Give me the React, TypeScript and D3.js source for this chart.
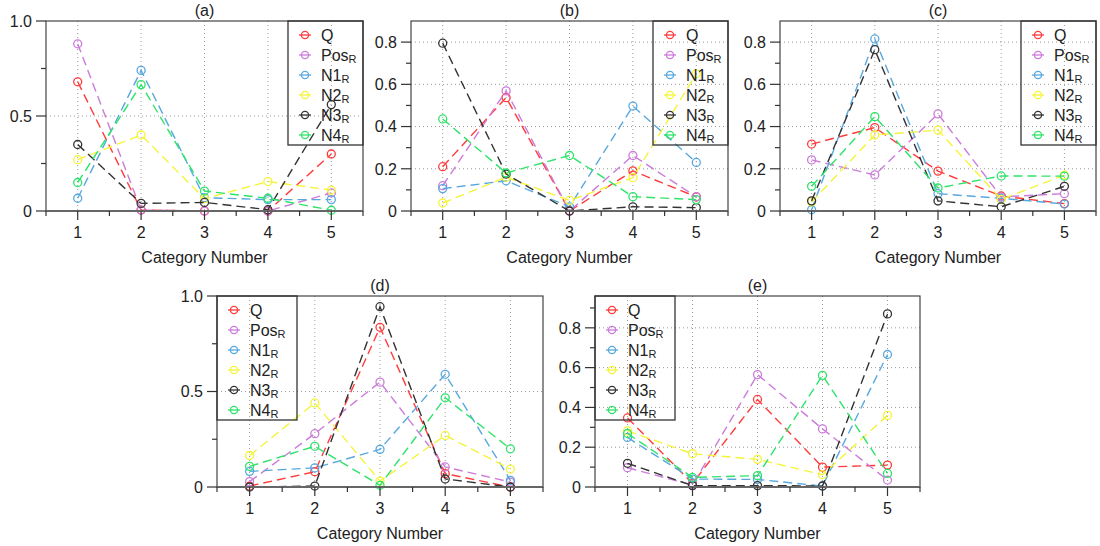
import React from 'react'
import * as d3 from 'd3'

// category numbers on the x axis
const categories = [1, 2, 3, 4, 5]

// series labels (name + subscript) and their colours
const seriesNames = ['Q', 'Pos', 'N1', 'N2', 'N3', 'N4']
const seriesSubs = ['', 'R', 'R', 'R', 'R', 'R']
const seriesColors = ['#ff3b3b', '#cc7bdb', '#58a8de', '#f4f43a', '#333333', '#2ee36a']

// values per panel, one row per series (Q, PosR, N1R, N2R, N3R, N4R)
const panelA = [
  [0.68, 0.005, 0.0, 0.0, 0.30],
  [0.88, 0.005, 0.0, 0.0, 0.095],
  [0.067, 0.74, 0.07, 0.06, 0.06],
  [0.27, 0.40, 0.065, 0.155, 0.11],
  [0.35, 0.04, 0.045, 0.007, 0.56],
  [0.15, 0.665, 0.105, 0.067, 0.004]
]
const panelB = [
  [0.21, 0.537, 0.0, 0.19, 0.067],
  [0.12, 0.569, 0.0, 0.263, 0.067],
  [0.106, 0.143, 0.02, 0.497, 0.23],
  [0.038, 0.16, 0.05, 0.158, 0.65],
  [0.795, 0.175, 0.0, 0.02, 0.016],
  [0.436, 0.18, 0.263, 0.068, 0.054]
]
const panelC = [
  [0.317, 0.395, 0.189, 0.071, 0.035],
  [0.242, 0.171, 0.46, 0.067, 0.082],
  [0.006, 0.815, 0.082, 0.06, 0.033],
  [0.043, 0.36, 0.383, 0.055, 0.17],
  [0.048, 0.764, 0.048, 0.02, 0.117],
  [0.117, 0.447, 0.109, 0.166, 0.165]
]
const panelD = [
  [0.005, 0.08, 0.836, 0.07, 0.0],
  [0.028, 0.279, 0.549, 0.105, 0.026],
  [0.082, 0.10, 0.197, 0.59, 0.035],
  [0.165, 0.44, 0.031, 0.27, 0.094],
  [0.0, 0.005, 0.944, 0.042, 0.0],
  [0.108, 0.213, 0.009, 0.467, 0.2]
]
const panelE = [
  [0.347, 0.018, 0.44, 0.10, 0.11],
  [0.097, 0.01, 0.565, 0.292, 0.035],
  [0.249, 0.04, 0.038, 0.005, 0.666],
  [0.282, 0.167, 0.139, 0.062, 0.36],
  [0.119, 0.007, 0.007, 0.005, 0.87],
  [0.269, 0.048, 0.057, 0.561, 0.068]
]

// y axis tick values
const ticksHalf = [0, 0.5, 1.0]
const minorHalf = [0.25, 0.75]
const ticksFifth = [0, 0.2, 0.4, 0.6, 0.8]
const minorFifth = [0.1, 0.3, 0.5, 0.7, 0.9]

const FONT = '"Liberation Sans", Arial, Helvetica, sans-serif'

// where each panel goes on the page
const panels = [
  { title: '(a)', data: panelA, yMax: 1.0, major: ticksHalf, minor: minorHalf, x0: 46, x1: 363, y0: 21, y1: 211, legend: 'right' },
  { title: '(b)', data: panelB, yMax: 0.9, major: ticksFifth, minor: minorFifth, x0: 411, x1: 728, y0: 21, y1: 211, legend: 'right' },
  { title: '(c)', data: panelC, yMax: 0.9, major: ticksFifth, minor: minorFifth, x0: 780, x1: 1096, y0: 21, y1: 211, legend: 'right' },
  { title: '(d)', data: panelD, yMax: 1.0, major: ticksHalf, minor: minorHalf, x0: 217, x1: 543, y0: 296, y1: 487, legend: 'left' },
  { title: '(e)', data: panelE, yMax: 0.96, major: ticksFifth, minor: minorFifth, x0: 595, x1: 920, y0: 296, y1: 487, legend: 'left' }
]

/**
 * One small panel: frame, grid, ticks, dashed series with open circles, legend.
 */
class Panel extends React.Component<any> {
  render() {
    const { title, data, yMax, major, minor, x0, x1, y0, y1, legend } = this.props

    const xScale = d3.scaleLinear().domain([0.5, 5.5]).range([x0, x1])
    const yScale = d3.scaleLinear().domain([0, yMax]).range([y1, y0])

    const line = d3.line<number>()
      .x((d, i) => xScale(categories[i]))
      .y((d) => yScale(d))

    const xMinor = d3.range(0.5, 5.6, 1)
    const fmt = (d: number) => (d === 0 ? '0' : d3.format('.1f')(d))

    // legend box
    const lw = legend === 'right' ? 75 : 80
    const lx = legend === 'right' ? x1 - lw : x0
    const ly = y0

    return (
      <g fontFamily={FONT}>
        {/* grid */}
        {categories.map((c) => (
          <line key={'gx' + c} x1={xScale(c)} x2={xScale(c)} y1={y0} y2={y1}
            stroke="#9a9a9a" strokeWidth={1} strokeDasharray="1,3" />
        ))}
        {major.filter((t: number) => t > 0 && t < yMax).map((t: number) => (
          <line key={'gy' + t} x1={x0} x2={x1} y1={yScale(t)} y2={yScale(t)}
            stroke="#9a9a9a" strokeWidth={1} strokeDasharray="1,3" />
        ))}

        {/* series */}
        {data.map((vals: number[], s: number) => (
          <g key={'s' + s}>
            <path d={line(vals) || ''} fill="none" stroke={seriesColors[s]}
              strokeWidth={1.4} strokeDasharray="9,5" />
            {vals.map((v, i) => (
              <circle key={i} cx={xScale(categories[i])} cy={yScale(v)} r={4}
                fill="none" stroke={seriesColors[s]} strokeWidth={1.3} />
            ))}
          </g>
        ))}

        {/* frame */}
        <rect x={x0} y={y0} width={x1 - x0} height={y1 - y0} fill="none" stroke="#444" strokeWidth={1.2} />
        <line x1={x0} x2={x1} y1={y1} y2={y1} stroke="#666" strokeWidth={2} />

        {/* y ticks */}
        {major.map((t: number) => (
          <g key={'yt' + t}>
            <line x1={x0 - 10} x2={x0} y1={yScale(t)} y2={yScale(t)} stroke="#333" strokeWidth={1.2} />
            <text x={x0 - 14} y={yScale(t)} dy="0.36em" textAnchor="end" fontSize={16} fill="#222">{fmt(t)}</text>
          </g>
        ))}
        {minor.filter((t: number) => t < yMax).map((t: number) => (
          <line key={'ym' + t} x1={x0 - 5} x2={x0} y1={yScale(t)} y2={yScale(t)} stroke="#333" strokeWidth={1.2} />
        ))}

        {/* x ticks */}
        {categories.map((c) => (
          <g key={'xt' + c}>
            <line x1={xScale(c)} x2={xScale(c)} y1={y1} y2={y1 + 9} stroke="#333" strokeWidth={1.2} />
            <text x={xScale(c)} y={y1 + 27} textAnchor="middle" fontSize={16} fill="#222">{c}</text>
          </g>
        ))}
        {xMinor.map((t) => (
          <line key={'xm' + t} x1={xScale(t)} x2={xScale(t)} y1={y1} y2={y1 + 5} stroke="#333" strokeWidth={1.2} />
        ))}

        {/* labels */}
        <text x={(x0 + x1) / 2} y={y0 - 5} textAnchor="middle" fontSize={16} fill="#222">{title}</text>
        <text x={(x0 + x1) / 2} y={y1 + 52} textAnchor="middle" fontSize={16} fill="#222">Category Number</text>

        {/* legend */}
        <rect x={lx} y={ly} width={lw} height={124} fill="none" stroke="#333" strokeWidth={1.3} />
        {seriesNames.map((name, s) => {
          const cy = ly + 14 + s * 20
          return (
            <g key={'lg' + s}>
              <line x1={lx + 11} x2={lx + 23} y1={cy} y2={cy} stroke={seriesColors[s]} strokeWidth={1.3} />
              <circle cx={lx + 17} cy={cy} r={3.6} fill="none" stroke={seriesColors[s]} strokeWidth={1.3} />
              <text x={lx + 33} y={cy} dy="0.36em" fontSize={16} fill="#222">
                {name}
                {seriesSubs[s] ? <tspan fontSize={11} dy={2}>{seriesSubs[s]}</tspan> : null}
              </text>
            </g>
          )
        })}
      </g>
    )
  }
}

export default function App() {
  return (
    <svg width={1100} height={546} style={{ position: 'absolute', left: 0, top: 0, background: '#fff' }}>
      {panels.map((p) => (
        <Panel key={p.title} {...p} />
      ))}
    </svg>
  )
}
